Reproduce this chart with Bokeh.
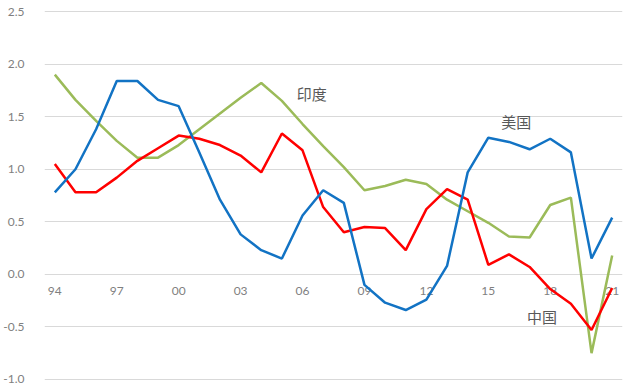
from bokeh.plotting import figure
from bokeh.models import Range1d, FixedTicker, PrintfTickFormatter, ColumnDataSource
from bokeh.core.properties import value
from bokeh.embed import file_html
from bokeh.resources import INLINE

years = list(range(1994, 2022))
usa = [0.78, 1.00, 1.38, 1.84, 1.84, 1.66, 1.60, 1.16, 0.71, 0.38, 0.23, 0.15, 0.56, 0.80,
       0.68, -0.10, -0.27, -0.34, -0.24, 0.08, 0.97, 1.30, 1.26, 1.19, 1.29, 1.16, 0.15, 0.54]
china = [1.05, 0.78, 0.78, 0.92, 1.08, 1.20, 1.32, 1.29, 1.23, 1.13, 0.97, 1.34, 1.18, 0.64,
         0.40, 0.45, 0.44, 0.23, 0.62, 0.81, 0.71, 0.09, 0.19, 0.07, -0.14, -0.28, -0.53, -0.13]
india = [1.90, 1.66, 1.46, 1.27, 1.11, 1.11, 1.23, 1.38, 1.53, 1.68, 1.82, 1.65, 1.43, 1.22,
         1.02, 0.80, 0.84, 0.90, 0.86, 0.71, 0.60, 0.49, 0.36, 0.35, 0.66, 0.73, -0.75, 0.18]
x_tick_years = [1994, 1997, 2000, 2003, 2006, 2009, 2012, 2015, 2018, 2021]
x_tick_labels = ["94", "97", "00", "03", "06", "09", "12", "15", "18", "21"]
y_ticks = [-1.0, -0.5, 0.0, 0.5, 1.0, 1.5, 2.0, 2.5]
series_names = ["印度", "美国", "中国"]
# annotation anchor positions (data space)
name_x = [2006.45, 2016.35, 2017.6]
name_y = [1.72, 1.45, -0.40]

p = figure(width=624, height=386, output_backend="svg", toolbar_location=None,
           x_range=Range1d(1993.5, 2021.5), y_range=Range1d(-1.02, 2.52),
           x_axis_location=None,
           min_border_left=36, min_border_right=2, min_border_top=9, min_border_bottom=5)
p.outline_line_color = None
p.background_fill_color = "white"
p.border_fill_color = "white"

p.yaxis.ticker = FixedTicker(ticks=y_ticks)
p.yaxis.formatter = PrintfTickFormatter(format="%.1f")
p.yaxis.axis_line_color = None
p.yaxis.major_tick_line_color = None
p.yaxis.minor_tick_line_color = None
p.yaxis.major_label_standoff = 14
p.yaxis.major_label_text_color = "#7f7f7f"
p.yaxis.major_label_text_font = "Lato"
p.yaxis.major_label_text_font_size = "12px"

p.xgrid.visible = False
p.ygrid.ticker = FixedTicker(ticks=y_ticks)
p.ygrid.grid_line_color = "#d9d9d9"
p.ygrid.grid_line_width = 1

tick_src = ColumnDataSource(dict(x=x_tick_years, y=[0.0] * len(x_tick_years), t=x_tick_labels))
p.text(x="x", y="y", text="t", source=tick_src, y_offset=17, text_align="center",
       text_baseline="middle", text_color="#7f7f7f", text_font=value("Lato"),
       text_font_size="12px")

src = ColumnDataSource(dict(year=years, usa=usa, china=china, india=india))
p.line("year", "india", source=src, line_color="#9BBB59", line_width=2.5)
p.line("year", "china", source=src, line_color="#FF0000", line_width=2.5)
p.line("year", "usa", source=src, line_color="#1273C4", line_width=2.5)

name_src = ColumnDataSource(dict(x=name_x, y=name_y, t=series_names))
p.text(x="x", y="y", text="t", source=name_src, text_align="center", text_baseline="middle",
       text_color="#595959", text_font=value("Noto Sans CJK SC"), text_font_size="15px")

open("out.html", "w").write(file_html(p, INLINE))
